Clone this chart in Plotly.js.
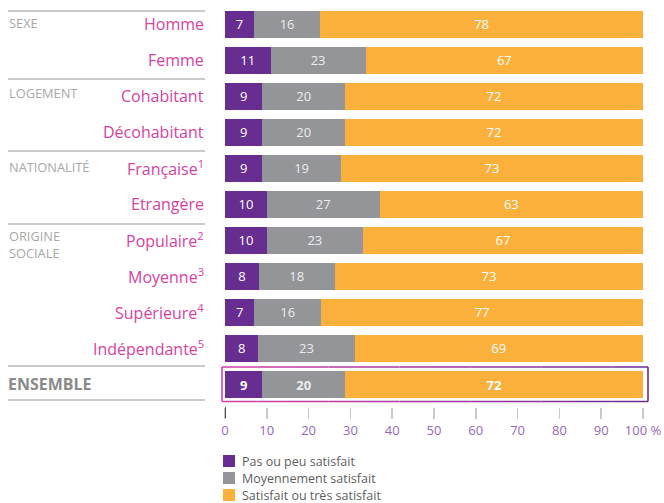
<!DOCTYPE html>
<html>
<head>
<meta charset="utf-8">
<script src="https://cdn.plot.ly/plotly-3.0.1.min.js"></script>
<style>html,body{margin:0;padding:0;background:#fff;}#chart{width:664px;height:503px;}</style>
</head>
<body>
<div id="chart"></div>
<script>
// ---- data ----
const categories = ['Homme','Femme','Cohabitant','Décohabitant','Française','Etrangère','Populaire','Moyenne','Supérieure','Indépendante','ENSEMBLE'];
const categoryLabels = ['Homme','Femme','Cohabitant','Décohabitant','Française<sup>1</sup>','Etrangère','Populaire<sup>2</sup>','Moyenne<sup>3</sup>','Supérieure<sup>4</sup>','Indépendante<sup>5</sup>',''];
const groupLabels = ['SEXE','LOGEMENT','NATIONALITÉ','ORIGINE<br>SOCIALE'];
const pasSatisfait = [7,11,9,9,9,10,10,8,7,8,9];
const moyennement = [16,23,20,20,19,27,23,18,16,23,20];
const satisfait = [78,67,72,72,73,63,67,73,77,69,72];
const seriesNames = ['Pas ou peu satisfait','Moyennement satisfait','Satisfait ou très satisfait'];
const xTickVals = [0,10,20,30,40,50,60,70,80,90,100];
const xTickText = ['0','10','20','30','40','50','60','70','80','90','100 %'];

// ---- styling ----
const colors = ['#672d91','#939598','#fbb03b'];
const textColors = ['#ffffff','#ececec','#ffffff'];
const FONT = '"Open Sans", Lato, sans-serif';
const L = 225, R = 643, T = 6, B = 407;
const X = px => (px - L) / (R - L);
const Y = py => (B - py) / (B - T);

function mkTrace(vals, i) {
  const isTot = categories.map(c => c === 'ENSEMBLE');
  return {
    type: 'bar', orientation: 'h',
    name: seriesNames[i],
    y: categories, x: vals,
    marker: {color: colors[i], line: {width: 0}},
    text: vals.map((v, k) => isTot[k] ? '<b>' + v + '</b>' : String(v)),
    texttemplate: '%{text}',
    textposition: 'inside', insidetextanchor: 'middle', textangle: 0,
    textfont: {family: FONT, size: isTot.map(t => t ? 14 : 13), color: textColors[i]},
    hoverinfo: 'name+text', showlegend: false
  };
}
const data = [mkTrace(pasSatisfait,0), mkTrace(moyennement,1), mkTrace(satisfait,2)];

const shapes = [];
// separator lines at left
[11, 79, 151, 224, 366, 400].forEach(py => shapes.push({
  type: 'line', xref: 'paper', yref: 'paper', x0: X(8), x1: X(205), y0: Y(py), y1: Y(py),
  line: {color: '#b8b8b8', width: 1.5}
}));
// ENSEMBLE box with magenta->purple gradient border
function lerp(a, b, t) {
  const pa = [1,3,5].map(i => parseInt(a.substr(i,2),16));
  const pb = [1,3,5].map(i => parseInt(b.substr(i,2),16));
  return 'rgb(' + pa.map((v,k) => Math.round(v + (pb[k]-v)*t)).join(',') + ')';
}
const bx0 = 222, bx1 = 648, by0 = 367, by1 = 401.5, cA = '#d63fa8', cB = '#6a2c91', nSeg = 12;
for (let s = 0; s < nSeg; s++) {
  const xa = bx0 + (bx1-bx0)*s/nSeg, xb = bx0 + (bx1-bx0)*(s+1)/nSeg;
  const c = lerp(cA, cB, (s+0.5)/nSeg);
  [by0, by1].forEach(py => shapes.push({type:'line', xref:'paper', yref:'paper', x0:X(xa), x1:X(xb), y0:Y(py), y1:Y(py), line:{color:c, width:1.6}}));
}
shapes.push({type:'line', xref:'paper', yref:'paper', x0:X(bx0), x1:X(bx0), y0:Y(by0), y1:Y(by1), line:{color:cA, width:1.6}});
shapes.push({type:'line', xref:'paper', yref:'paper', x0:X(bx1), x1:X(bx1), y0:Y(by0), y1:Y(by1), line:{color:cB, width:1.6}});
// dark zero tick
shapes.push({type:'line', xref:'x', yref:'paper', x0:0, x1:0, y0:Y(407), y1:Y(418), line:{color:'#222', width:1.5}});

const annotations = [];
// category labels (right-aligned next to bars)
categories.forEach((c, i) => {
  if (!categoryLabels[i]) return;
  annotations.push({xref:'paper', yref:'y', x:X(206), y:c, xanchor:'right', yanchor:'middle',
    text: categoryLabels[i], showarrow:false, font:{family:FONT, size:16, color:'#d6429f'}});
});
const groupPy = [23, 93, 167, 244];
groupLabels.forEach((g, i) => annotations.push({
  xref:'paper', yref:'paper', x:X(7), y:Y(groupPy[i]), xanchor:'left', yanchor:'middle', align:'left',
  text:g, showarrow:false, font:{family:FONT, size:12.8, color:'#a8a8a8'}
}));
annotations.push({xref:'paper', yref:'paper', x:X(6), y:Y(384), xanchor:'left', yanchor:'middle',
  text:'<b>ENSEMBLE</b>', showarrow:false, font:{family:FONT, size:16, color:'#8a8a8a'}});

// manual legend (squares + labels)
const legendPy = [461, 478, 495];
seriesNames.forEach((n, i) => {
  shapes.push({type:'rect', xref:'paper', yref:'paper', x0:X(223), x1:X(235), y0:Y(legendPy[i]-6), y1:Y(legendPy[i]+6),
    fillcolor: colors[i], line:{width:0}});
  annotations.push({xref:'paper', yref:'paper', x:X(240), y:Y(legendPy[i]), xanchor:'left', yanchor:'middle',
    text:n, showarrow:false, font:{family:FONT, size:12.5, color:'#5e5e5e'}});
});

const layout = {
  width: 664, height: 503,
  margin: {l: L, r: 664 - R, t: T, b: 503 - B, pad: 0, autoexpand: false},
  paper_bgcolor: '#fff', plot_bgcolor: '#fff',
  barmode: 'stack', barnorm: 'percent', bargap: 0.25,
  font: {family: FONT, color: '#666'},
  uniformtext: {mode: 'show', minsize: 12},
  xaxis: {range: [0, 100], tickvals: xTickVals, ticktext: xTickText, ticks: 'outside', ticklen: 11, tickwidth: 1.5,
    tickcolor: '#c8c8c8', showgrid: false, zeroline: false, showline: false, automargin: false,
    tickfont: {family: FONT, size: 13, color: '#9467bd'}, fixedrange: true},
  yaxis: {type: 'category', categoryorder: 'array', categoryarray: categories, automargin: false,
    range: [10.625, -0.5], showticklabels: false, ticks: '',
    showgrid: false, zeroline: false, showline: false, fixedrange: true},
  showlegend: false,
  shapes: shapes, annotations: annotations
};
Plotly.newPlot('chart', data, layout, {displayModeBar: false, staticPlot: true});
</script>
</body>
</html>
